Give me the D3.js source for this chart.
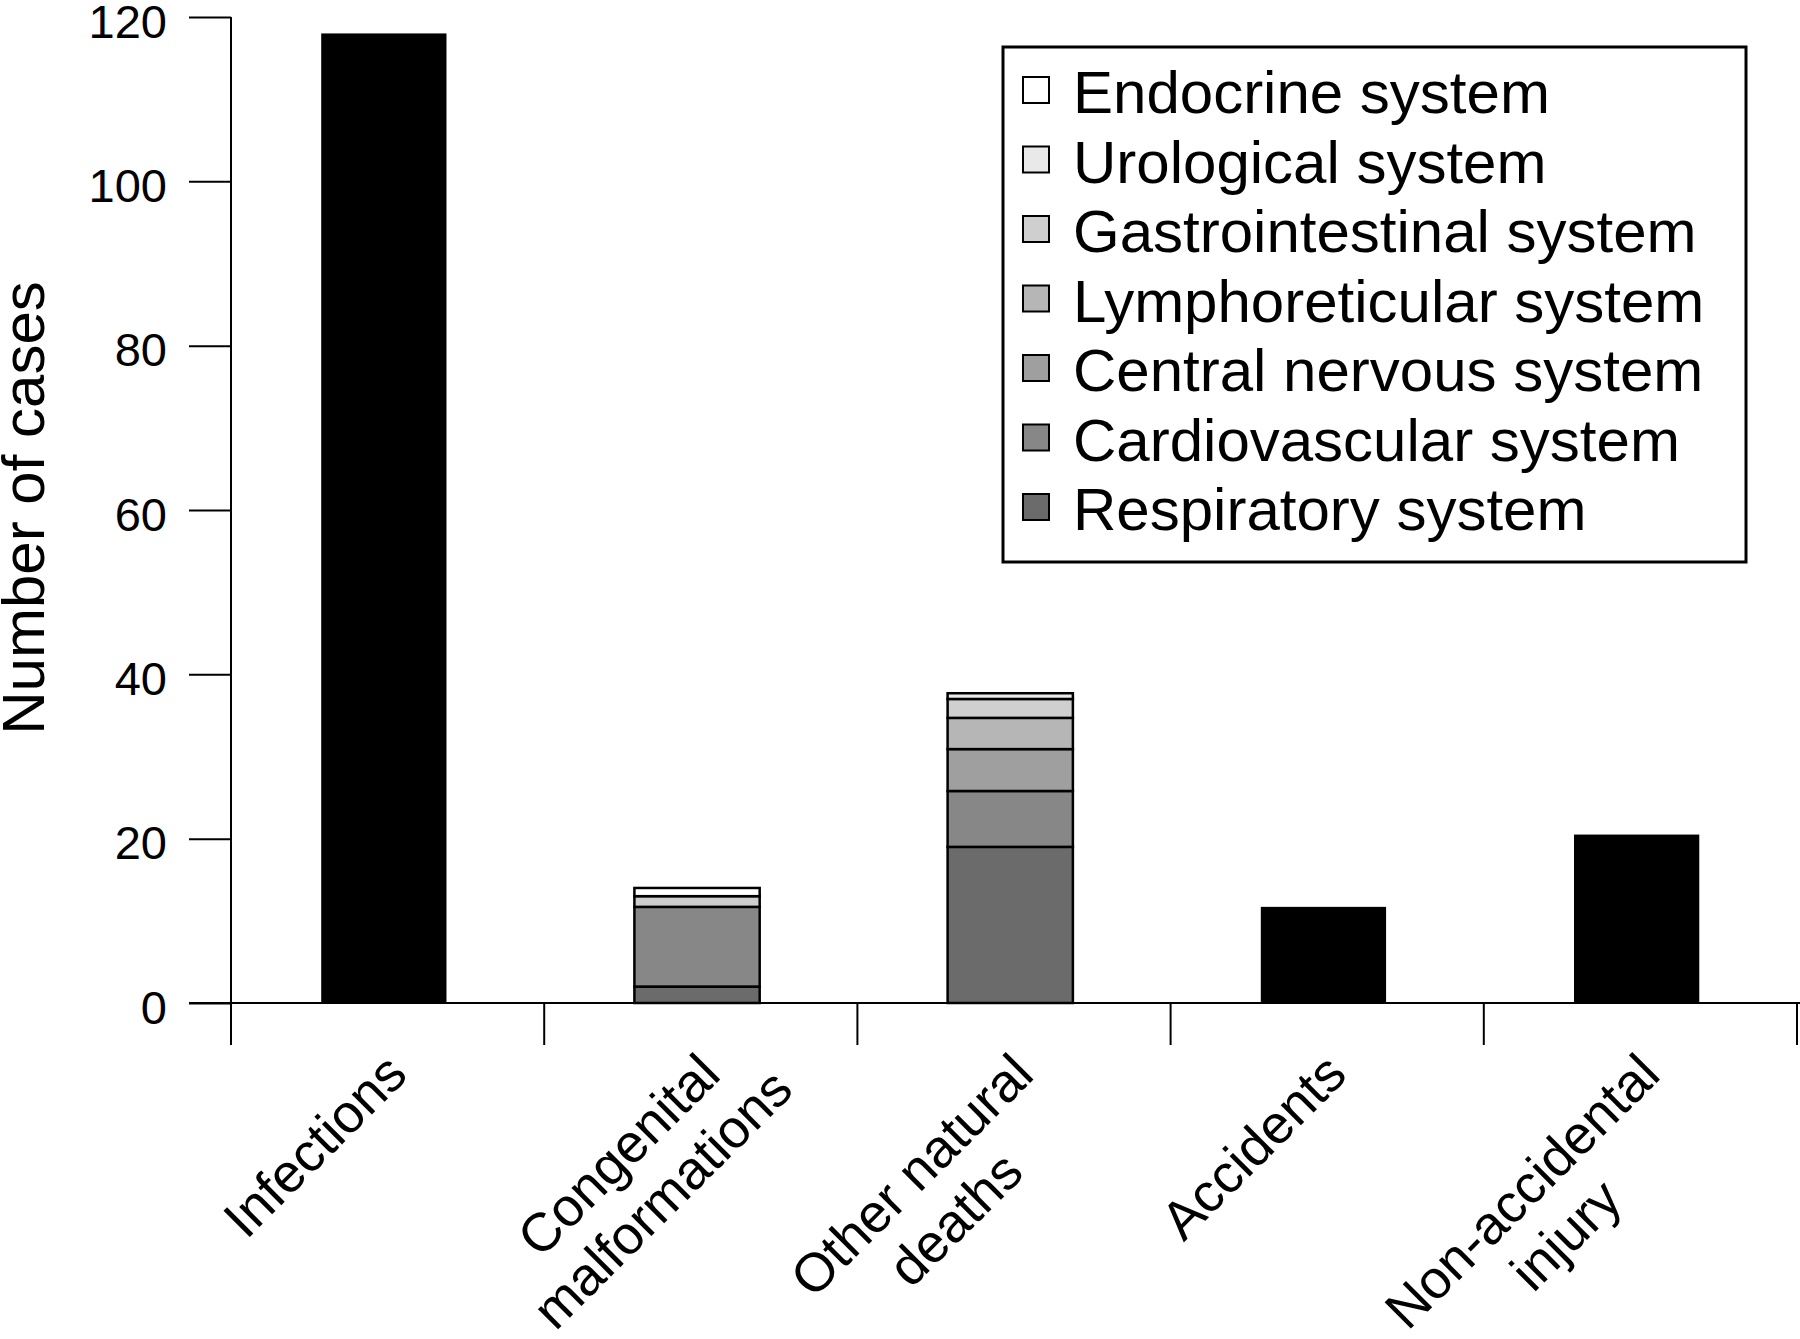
<!DOCTYPE html>
<html>
<head>
<meta charset="utf-8">
<script src="https://cdn.jsdelivr.net/npm/d3@7"></script>
<style>
  html, body { margin: 0; padding: 0; background: #fff; }
  text { font-family: "Liberation Sans", Arial, Helvetica, sans-serif; fill: #000; }
</style>
</head>
<body>
<svg id="chart" width="1800" height="1339"></svg>
<script>
// ---- data ----
const categories = ["Infections", "Congenital malformations", "Other natural deaths", "Accidents", "Non-accidental injury"];
const categoryLabelLines = [["Infections"], ["Congenital", "malformations"], ["Other natural", "deaths"], ["Accidents"], ["Non-accidental", "injury"]];
const yTicks = [0, 20, 40, 60, 80, 100, 120];

// single-cause totals (black bars)
const totalCases = [118, 0, 0, 11.7, 20.5];

// system breakdown (stacked bars), bottom to top
const systems = ["Respiratory system", "Cardiovascular system", "Central nervous system", "Lymphoreticular system", "Gastrointestinal system", "Urological system", "Endocrine system"];
const respiratory     = [0, 2,   19,  0, 0];
const cardiovascular  = [0, 9.7, 6.8, 0, 0];
const centralNervous  = [0, 0,   5.1, 0, 0];
const lymphoreticular = [0, 0,   3.8, 0, 0];
const gastrointestinal= [0, 1.3, 2.3, 0, 0];
const urological      = [0, 0,   0.7, 0, 0];
const endocrine       = [0, 1,   0,   0, 0];
const systemColors = ["#6b6b6b", "#878787", "#9f9f9f", "#b6b6b6", "#cfcfcf", "#e9e9e9", "#ffffff"];

// ---- build table ----
const systemSeries = [respiratory, cardiovascular, centralNervous, lymphoreticular, gastrointestinal, urological, endocrine];
const table = categories.map((c, i) => {
  const row = { category: c, total: totalCases[i] };
  systems.forEach((s, j) => row[s] = systemSeries[j][i]);
  return row;
});

const svg = d3.select("#chart");

const x = d3.scaleBand().domain(categories).range([231, 1797])
  .paddingInner(0.6).paddingOuter(0.3).align(0.48);
const y = d3.scaleLinear().domain([0, 120]).range([1003, 17]);
const step = x.step();

// ---- bars ----
svg.append("g").selectAll("rect").data(table.filter(d => d.total > 0)).join("rect")
  .attr("x", d => x(d.category))
  .attr("width", x.bandwidth())
  .attr("y", d => y(d.total))
  .attr("height", d => y(0) - y(d.total))
  .attr("fill", "#000");

const stacked = d3.stack().keys(systems)(table);
const segG = svg.append("g");
stacked.forEach((layer, j) => {
  segG.selectAll(null).data(layer.filter(d => d[1] - d[0] > 0)).join("rect")
    .attr("x", d => x(d.data.category))
    .attr("width", x.bandwidth())
    .attr("y", d => y(d[1]))
    .attr("height", d => y(d[0]) - y(d[1]))
    .attr("fill", systemColors[j])
    .attr("stroke", "#000")
    .attr("stroke-width", 2.5);
});

// ---- y axis ----
const yAxis = svg.append("g").attr("transform", "translate(231,0)")
  .call(d3.axisLeft(y).tickValues(yTicks).tickSize(42).tickPadding(22).tickFormat(d3.format("d")));
yAxis.select(".domain").remove();
yAxis.selectAll(".tick line").attr("stroke", "#000").attr("stroke-width", 2);
yAxis.selectAll(".tick text").attr("font-size", 47).attr("dy", "0.43em")
  .attr("font-family", "'Liberation Sans', Arial, sans-serif").attr("fill", "#000");
svg.append("line").attr("x1", 231).attr("x2", 231).attr("y1", y(120)).attr("y2", y(0) + 42)
  .attr("stroke", "#000").attr("stroke-width", 2);

// ---- x axis ----
const r0 = x.range()[0];
svg.append("line").attr("x1", 189).attr("x2", 1800).attr("y1", y(0)).attr("y2", y(0))
  .attr("stroke", "#000").attr("stroke-width", 2);
const boundaries = d3.range(1, categories.length + 1).map(i => r0 + i * step);
svg.append("g").selectAll("line").data(boundaries).join("line")
  .attr("x1", d => d).attr("x2", d => d)
  .attr("y1", y(0)).attr("y2", y(0) + 42)
  .attr("stroke", "#000").attr("stroke-width", 2);

// category labels
categories.forEach((c, i) => {
  const lines = categoryLabelLines[i];
  const cx = r0 + (i + 0.5) * step;
  const g = svg.append("g")
    .attr("transform", `translate(${cx + 22},1077) rotate(-45)`);
  const t1 = g.append("text").attr("text-anchor", "end").attr("font-size", 54).text(lines[0]);
  if (lines.length > 1) {
    const len = t1.node().getComputedTextLength();
    g.append("text").attr("text-anchor", "middle").attr("font-size", 54)
      .attr("x", -len / 2).attr("y", 62).text(lines[1]);
  }
});

// y title
svg.append("text").attr("transform", "translate(44,508) rotate(-90)")
  .attr("text-anchor", "middle").attr("font-size", 60).text("Number of cases");

// ---- legend ----
const lg = svg.append("g");
lg.append("rect").attr("x", 1003).attr("y", 47).attr("width", 743).attr("height", 515)
  .attr("fill", "#fff").attr("stroke", "#000").attr("stroke-width", 3);
const legendOrder = systems.map((s, j) => ({ name: s, color: systemColors[j] })).reverse();
legendOrder.forEach((d, i) => {
  const cy = 92 + i * 69.5;
  lg.append("rect").attr("x", 1023).attr("y", cy - 15).attr("width", 26).attr("height", 26)
    .attr("fill", d.color).attr("stroke", "#000").attr("stroke-width", 2);
  lg.append("text").attr("x", 1073).attr("y", cy + 21).attr("font-size", 60).text(d.name);
});
</script>
</body>
</html>
